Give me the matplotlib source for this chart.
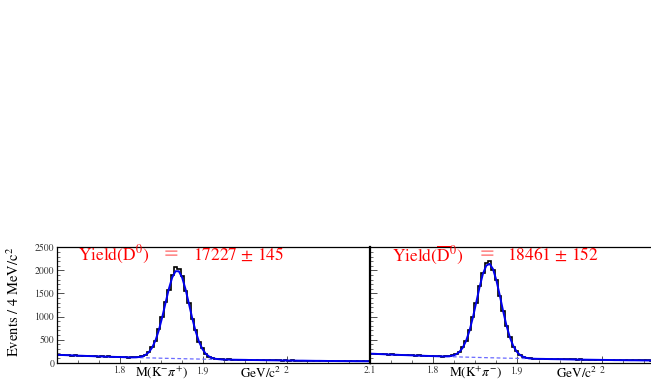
import matplotlib
matplotlib.use('Agg')
import matplotlib.pyplot as plt
import numpy as np
from matplotlib.ticker import MultipleLocator, FixedLocator

plt.rcParams['font.family'] = 'STIXGeneral'
plt.rcParams['mathtext.fontset'] = 'stix'

# Histogramm: 4 MeV Bins ab 1.725 GeV
m_start = 1.725
bin_w = 0.004

# linkes Panel: D0 -> K- pi+
data_d0 = [172, 165, 160, 168, 150, 158, 149, 155, 146, 140,
           150, 138, 131, 142, 128, 135, 124, 130, 118, 126,
           122, 112, 118,
           120, 128, 140, 175, 240, 335, 470, 720, 990, 1310,
           1580, 1890, 2080, 2040, 1870, 1560, 1300, 950, 700, 455,
           310, 190, 130, 108, 88, 80,
           72, 66, 70, 63, 67, 60, 64, 58, 62, 55,
           60, 52, 56, 54, 50, 55, 48, 52, 46, 50,
           44, 48, 42, 47, 41, 45, 40, 44, 38, 42,
           36, 41, 37, 35, 39, 33, 36, 32, 35, 31,
           34, 30, 33, 29, 31]
fit_d0 = [170, 167, 164, 161, 158, 155, 152, 150, 147, 144,
          142, 139, 137, 134, 132, 130, 127, 125, 123, 121,
          119, 116, 114,
          117, 122, 137, 168, 226, 328, 483, 703, 981, 1293,
          1599, 1845, 1982, 1981, 1840, 1590, 1282, 966, 685, 461,
          303, 198, 137, 102, 84, 76,
          69, 68, 67, 65, 64, 63, 62, 61, 59, 58,
          57, 56, 55, 54, 53, 52, 51, 50, 49, 48,
          47, 46, 45, 44, 44, 43, 42, 41, 40, 40,
          39, 38, 37, 37, 36, 35, 35, 34, 33, 33,
          32, 32, 31, 31, 30]
bkg_d0 = [170, 167, 164, 161, 158, 155, 152, 150, 147, 144,
          142, 139, 137, 134, 132, 130, 127, 125, 123, 121,
          119, 116, 114,
          112, 110, 108, 106, 104, 103, 101, 99, 97, 95,
          94, 92, 90, 89, 87, 85, 84, 82, 81, 79,
          78, 76, 75, 73, 72, 71,
          69, 68, 67, 65, 64, 63, 62, 61, 59, 58,
          57, 56, 55, 54, 53, 52, 51, 50, 49, 48,
          47, 46, 45, 44, 44, 43, 42, 41, 40, 40,
          39, 38, 37, 37, 36, 35, 35, 34, 33, 33,
          32, 32, 31, 31, 30]

# rechtes Panel: D0bar -> K+ pi-
data_d0bar = [198, 186, 192, 178, 184, 170, 180, 168, 174, 160,
              166, 158, 163, 150, 156, 148, 152, 140, 147, 138,
              142, 130,
              140, 138, 160, 190, 240, 330, 480, 700, 990, 1290,
              1660, 1950, 2150, 2210, 2010, 1790, 1440, 1130, 790, 560,
              350, 250, 160, 125, 100, 92,
              88, 82, 86, 80, 84, 77, 80, 74, 78, 72,
              75, 70, 73, 68, 72, 66, 69, 64, 67, 62,
              65, 60, 63, 57, 61, 55, 58, 53, 56, 51,
              54, 50, 52, 48, 51, 46, 49, 45, 47, 44,
              46, 42, 45, 41, 43, 40]
bkg_d0bar = [195, 192, 188, 185, 182, 179, 175, 173, 170, 166,
             164, 161, 159, 155, 153, 151, 148, 146, 143, 141,
             139, 136, 133, 131, 129, 127, 125, 122, 121, 119,
             117, 115, 113, 111, 109, 107, 106, 104, 102, 100,
             98, 97, 95, 94, 92, 91, 88, 87, 86, 84,
             83, 82, 80, 78, 77, 76, 75, 73, 72, 71,
             70, 69, 67, 66, 65, 64, 63, 62, 61, 60,
             59, 58, 56, 56, 55, 54, 53, 52, 52, 51,
             50, 49, 49, 48, 47, 47, 45, 44, 44, 43,
             43, 42, 42, 41]
fit_d0bar = (bkg_d0bar[:22]
             + [137, 141, 153, 179, 232, 323, 473, 689, 972, 1300,
                1636, 1924, 2105, 2142, 2027, 1782, 1459, 1116, 802, 549,
                364, 242, 167, 127, 103, 93]
             + bkg_d0bar[48:])

yield_labels = [r'Yield(D$^{0}$)', r'Yield($\overline{\rm D}^{0}$)']
yield_values = ['17227 $\\pm$ 145', '18461 $\\pm$ 152']
xlabels = [r'M(K$^{-}\pi^{+}$)', r'M(K$^{+}\pi^{-}$)']
xtick_left = [1.8, 1.9, 2.0, 2.1]
xtick_right = [1.8, 1.9, 2.0]

W, H = 651, 381
fig = plt.figure(figsize=(W / 100, H / 100), dpi=100)

def px(x, y):
    return x / W, 1 - y / H

ax_w = 313 / W
ax_h = 115.4 / H
ax_b = 1 - 362.7 / H
ax_left = fig.add_axes([57 / W, ax_b, ax_w, ax_h])
ax_right = fig.add_axes([370 / W, ax_b, 316 / W, ax_h])

panels = [(ax_left, data_d0, fit_d0, bkg_d0, xtick_left),
          (ax_right, data_d0bar, fit_d0bar, bkg_d0bar, xtick_right)]

for ax, d, f, b, xt in panels:
    edges = m_start + bin_w * np.arange(len(d) + 1)
    centers = m_start + bin_w * (np.arange(len(f)) + 0.5)
    ax.stairs(d, edges, color='black', linewidth=1.2)
    ax.plot(centers, b, '--', color='#6a6aff', linewidth=0.9, dashes=(3, 2))
    ax.plot(centers, f, '-', color='#0000ee', linewidth=1.4)
    ax.set_xlim(1.725, 2.1)
    ax.set_ylim(0, 2500)
    ax.xaxis.set_major_locator(FixedLocator(xt))
    ax.xaxis.set_minor_locator(MultipleLocator(0.025))
    ax.yaxis.set_major_locator(MultipleLocator(500))
    ax.yaxis.set_minor_locator(MultipleLocator(100))
    ax.tick_params(which='both', direction='in', top=False, right=False,
                   labelsize=7, colors='#333333', pad=2)
    ax.tick_params(which='major', length=5, width=0.6)
    ax.tick_params(which='minor', length=2.5, width=0.5)
    for s in ax.spines.values():
        s.set_linewidth(0.9)
    ax.xaxis.set_major_formatter(plt.FuncFormatter(lambda v, p: ('%g' % round(v, 3))))

ax_left.yaxis.set_major_formatter(plt.FuncFormatter(lambda v, p: '%d' % v))
ax_right.set_yticklabels([])
ax_right.spines['left'].set_linewidth(1.6)

# Yield-Beschriftung
for (x0, xeq, xv), lab, val in zip([(78, 164, 193), (392, 480, 507)],
                                   yield_labels, yield_values):
    fig.text(*px(x0, 255), lab, color='red', fontsize=12.5, va='center', ha='left')
    fig.text(*px(xeq, 254), '=', color='#ff8a8a', fontsize=14,
             fontweight='bold', va='center', ha='left')
    fig.text(*px(xv, 255), val, color='red', fontsize=12.5, va='center', ha='left')

# Achsenbeschriftungen
for xm, xg, lab in zip([135, 449], [240, 556], xlabels):
    fig.text(*px(xm, 373), lab, fontsize=9.5, va='center', ha='left')
    fig.text(*px(xg, 373), r'GeV/c$^{2}$', fontsize=9.5, va='center', ha='left')

fig.text(*px(14, 302), r'Events / 4 MeV/c$^{2}$', fontsize=10.5,
         rotation=90, va='center', ha='center')

fig.savefig('out.png', dpi=100)
